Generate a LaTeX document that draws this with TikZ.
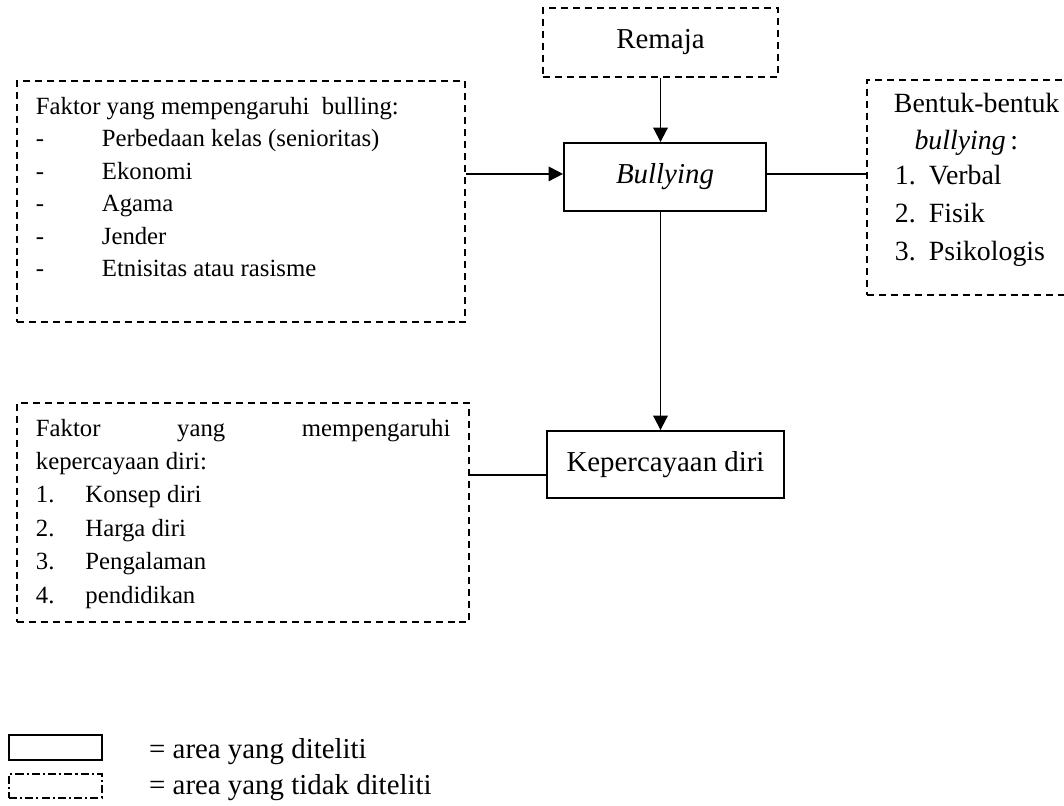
\documentclass[tikz,border=0pt]{standalone}
\usepackage{fontspec}
\setmainfont{Liberation Serif}
\usetikzlibrary{fit,positioning,arrows.meta}

\begin{document}
\begin{tikzpicture}[x=0.485pt, y=-0.485pt, line width=0.9pt,
  solidbox/.style={draw, inner sep=0pt, font=\fontsize{14}{16}\selectfont},
  dashbox/.style={draw, dash pattern=on 3.4pt off 2.4pt, inner sep=0pt, font=\fontsize{14}{16}\selectfont},
  listtxt/.style={anchor=north west, inner sep=0pt, align=left, font=\fontsize{12}{15.8}\selectfont},
  legtxt/.style={inner sep=0pt, font=\fontsize{14}{16}\selectfont},
  arr/.style={-{Triangle[length=7pt,width=7pt]}}]
  \useasboundingbox (0,0) rectangle (1064,805);
  \clip (0,0) rectangle (1064,805);

  % Boxes
  \node[dashbox, minimum width=114pt, minimum height=33.5pt] (remaja) at (660.5,42.5) {Remaja};
  \node[solidbox, minimum width=98pt, minimum height=33pt] (bully) at (665,177) {\itshape Bullying};
  \node[solidbox, minimum width=115pt, minimum height=32.5pt] (pd) at (665.5,464.5) {Kepercayaan diri};
  \node[dashbox, fit={(17,81) (465,322)}] (faktorb) {};
  \node[dashbox, fit={(867,80) (1090,295)}] (bentuk) {};
  \node[dashbox, fit={(17,403) (469,622)}] (faktorpd) {};

  % Texts in the dashed boxes
  \node[listtxt] (faktorbtxt) at (35,96) {Faktor yang mempengaruhi\ \ bulling:\\
    \makebox[32pt][l]{-}Perbedaan kelas (senioritas)\\
    \makebox[32pt][l]{-}Ekonomi\\
    \makebox[32pt][l]{-}Agama\\
    \makebox[32pt][l]{-}Jender\\
    \makebox[32pt][l]{-}Etnisitas atau rasisme};
  \node[listtxt, font=\fontsize{13.5}{18.5}\selectfont] (bentuktxt) at (893,92) {Bentuk-bentuk\\[-0.5pt]
    \hspace*{10pt}\textit{bullying}\,:\\[-1.5pt]
    \hspace*{0.5pt}\makebox[16.5pt][l]{1.}Verbal\\
    \hspace*{0.5pt}\makebox[16.5pt][l]{2.}Fisik\\
    \hspace*{0.5pt}\makebox[16.5pt][l]{3.}Psikologis};
  \node[listtxt, font=\fontsize{12}{16.2}\selectfont] (faktorpdtxt) at (35,418) {\makebox[201pt][s]{Faktor\hfill yang\hfill mempengaruhi}\\
    kepercayaan diri:\\
    \makebox[24pt][l]{1.}Konsep diri\\
    \makebox[24pt][l]{2.}Harga diri\\
    \makebox[24pt][l]{3.}Pengalaman\\
    \makebox[24pt][l]{4.}pendidikan};

  % Connectors
  \draw[arr] (remaja.south) -- (remaja.south |- bully.north);
  \draw[arr] ([yshift=1.5pt]faktorb.east |- bully.west) -- ([yshift=1.5pt]bully.west);
  \draw ([yshift=1.5pt]bully.east) -- ([yshift=1.5pt]bully.east -| bentuk.west);
  \draw[arr] (bully.south -| remaja.south) -- (pd.north -| remaja.south);
  \draw ([yshift=-5pt]pd.west) -- ([yshift=-5pt]pd.west -| faktorpd.east);

  % Legend
  \node[solidbox, fit={(9,735) (102,760)}] (legsolid) {};
  \node[draw, dash pattern=on 3.9pt off 1.5pt on 1pt off 1.5pt, inner sep=0pt,
    fit={(9,774) (102,798)}] (legdash) {};
  \node[legtxt, right=22pt of legsolid, yshift=-2pt] (legsolidtxt) {= area yang diteliti};
  \node[legtxt, right=22pt of legdash, yshift=-1pt] (legdashtxt) {= area yang tidak diteliti};
\end{tikzpicture}
\end{document}
